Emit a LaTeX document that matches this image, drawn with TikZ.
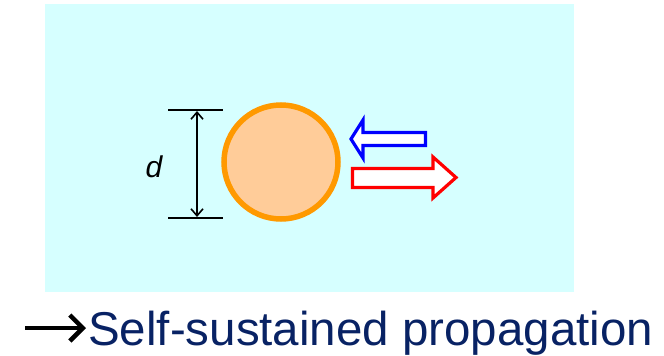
\documentclass[tikz,border=0pt]{standalone}
\usepackage{fontspec}
\setmainfont{Liberation Sans}
\usetikzlibrary{arrows.meta}
\definecolor{bgcyan}{RGB}{214,255,255}
\definecolor{ringor}{RGB}{255,153,0}
\definecolor{fillor}{RGB}{255,204,153}
\definecolor{navy}{RGB}{8,34,100}
\definecolor{aredd}{RGB}{255,0,0}
\definecolor{ablue}{RGB}{0,0,255}
\begin{document}
\begin{tikzpicture}[x=1pt,y=-1pt,
  dimline/.style={line width=1.8pt,black},
  hollowarrow/.style={line width=3.2pt,fill=white,line join=miter},
  captext/.style={anchor=base west,inner sep=0pt,text=navy,font=\fontsize{47.5}{50}\selectfont}]
\useasboundingbox (0,0) rectangle (664,356);
% background
\fill[bgcyan] (45,4) rectangle (574,292);
% particle
\node[circle,draw=ringor,fill=fillor,line width=5.5pt,minimum size=114pt,inner sep=0pt] (p) at (281,162) {};
% dimension
\coordinate (t1) at (168,110); \coordinate (t2) at (223,110);
\coordinate (b1) at (168,218); \coordinate (b2) at (223,218);
\draw[dimline] (t1) -- (t2);
\draw[dimline] (b1) -- (b2);
\coordinate (va) at (197,111); \coordinate (vb) at (197,217);
\draw[line width=1.6pt,{Straight Barb[length=7pt,width=12pt]}-{Straight Barb[length=7pt,width=12pt]}] (va) -- (vb);
\node[inner sep=0pt,font=\fontsize{30}{32}\selectfont\itshape] (d) at (154,167) {d};
% blue arrow (incoming)
\draw[hollowarrow,draw=ablue] (351,139) -- (363,120) -- (363,132.5) -- (425.5,132.5) -- (425.5,145.5) -- (363,145.5) -- (363,158) -- cycle;
% red arrow (outgoing)
\draw[hollowarrow,draw=aredd] (456,177.5) -- (433,157) -- (433,168.5) -- (352.5,168.5) -- (352.5,187.5) -- (433,187.5) -- (433,198) -- cycle;
% caption
\coordinate (c1) at (25,328); \coordinate (c2) at (86,328);
\draw[line width=4.5pt,-{Straight Barb[length=13pt 0,width=26pt 0,line width=4.5pt]}] (c1) -- (c2);
\node[captext] (cap) at (88,345) {Self-sustained propagation};
\end{tikzpicture}
\end{document}
